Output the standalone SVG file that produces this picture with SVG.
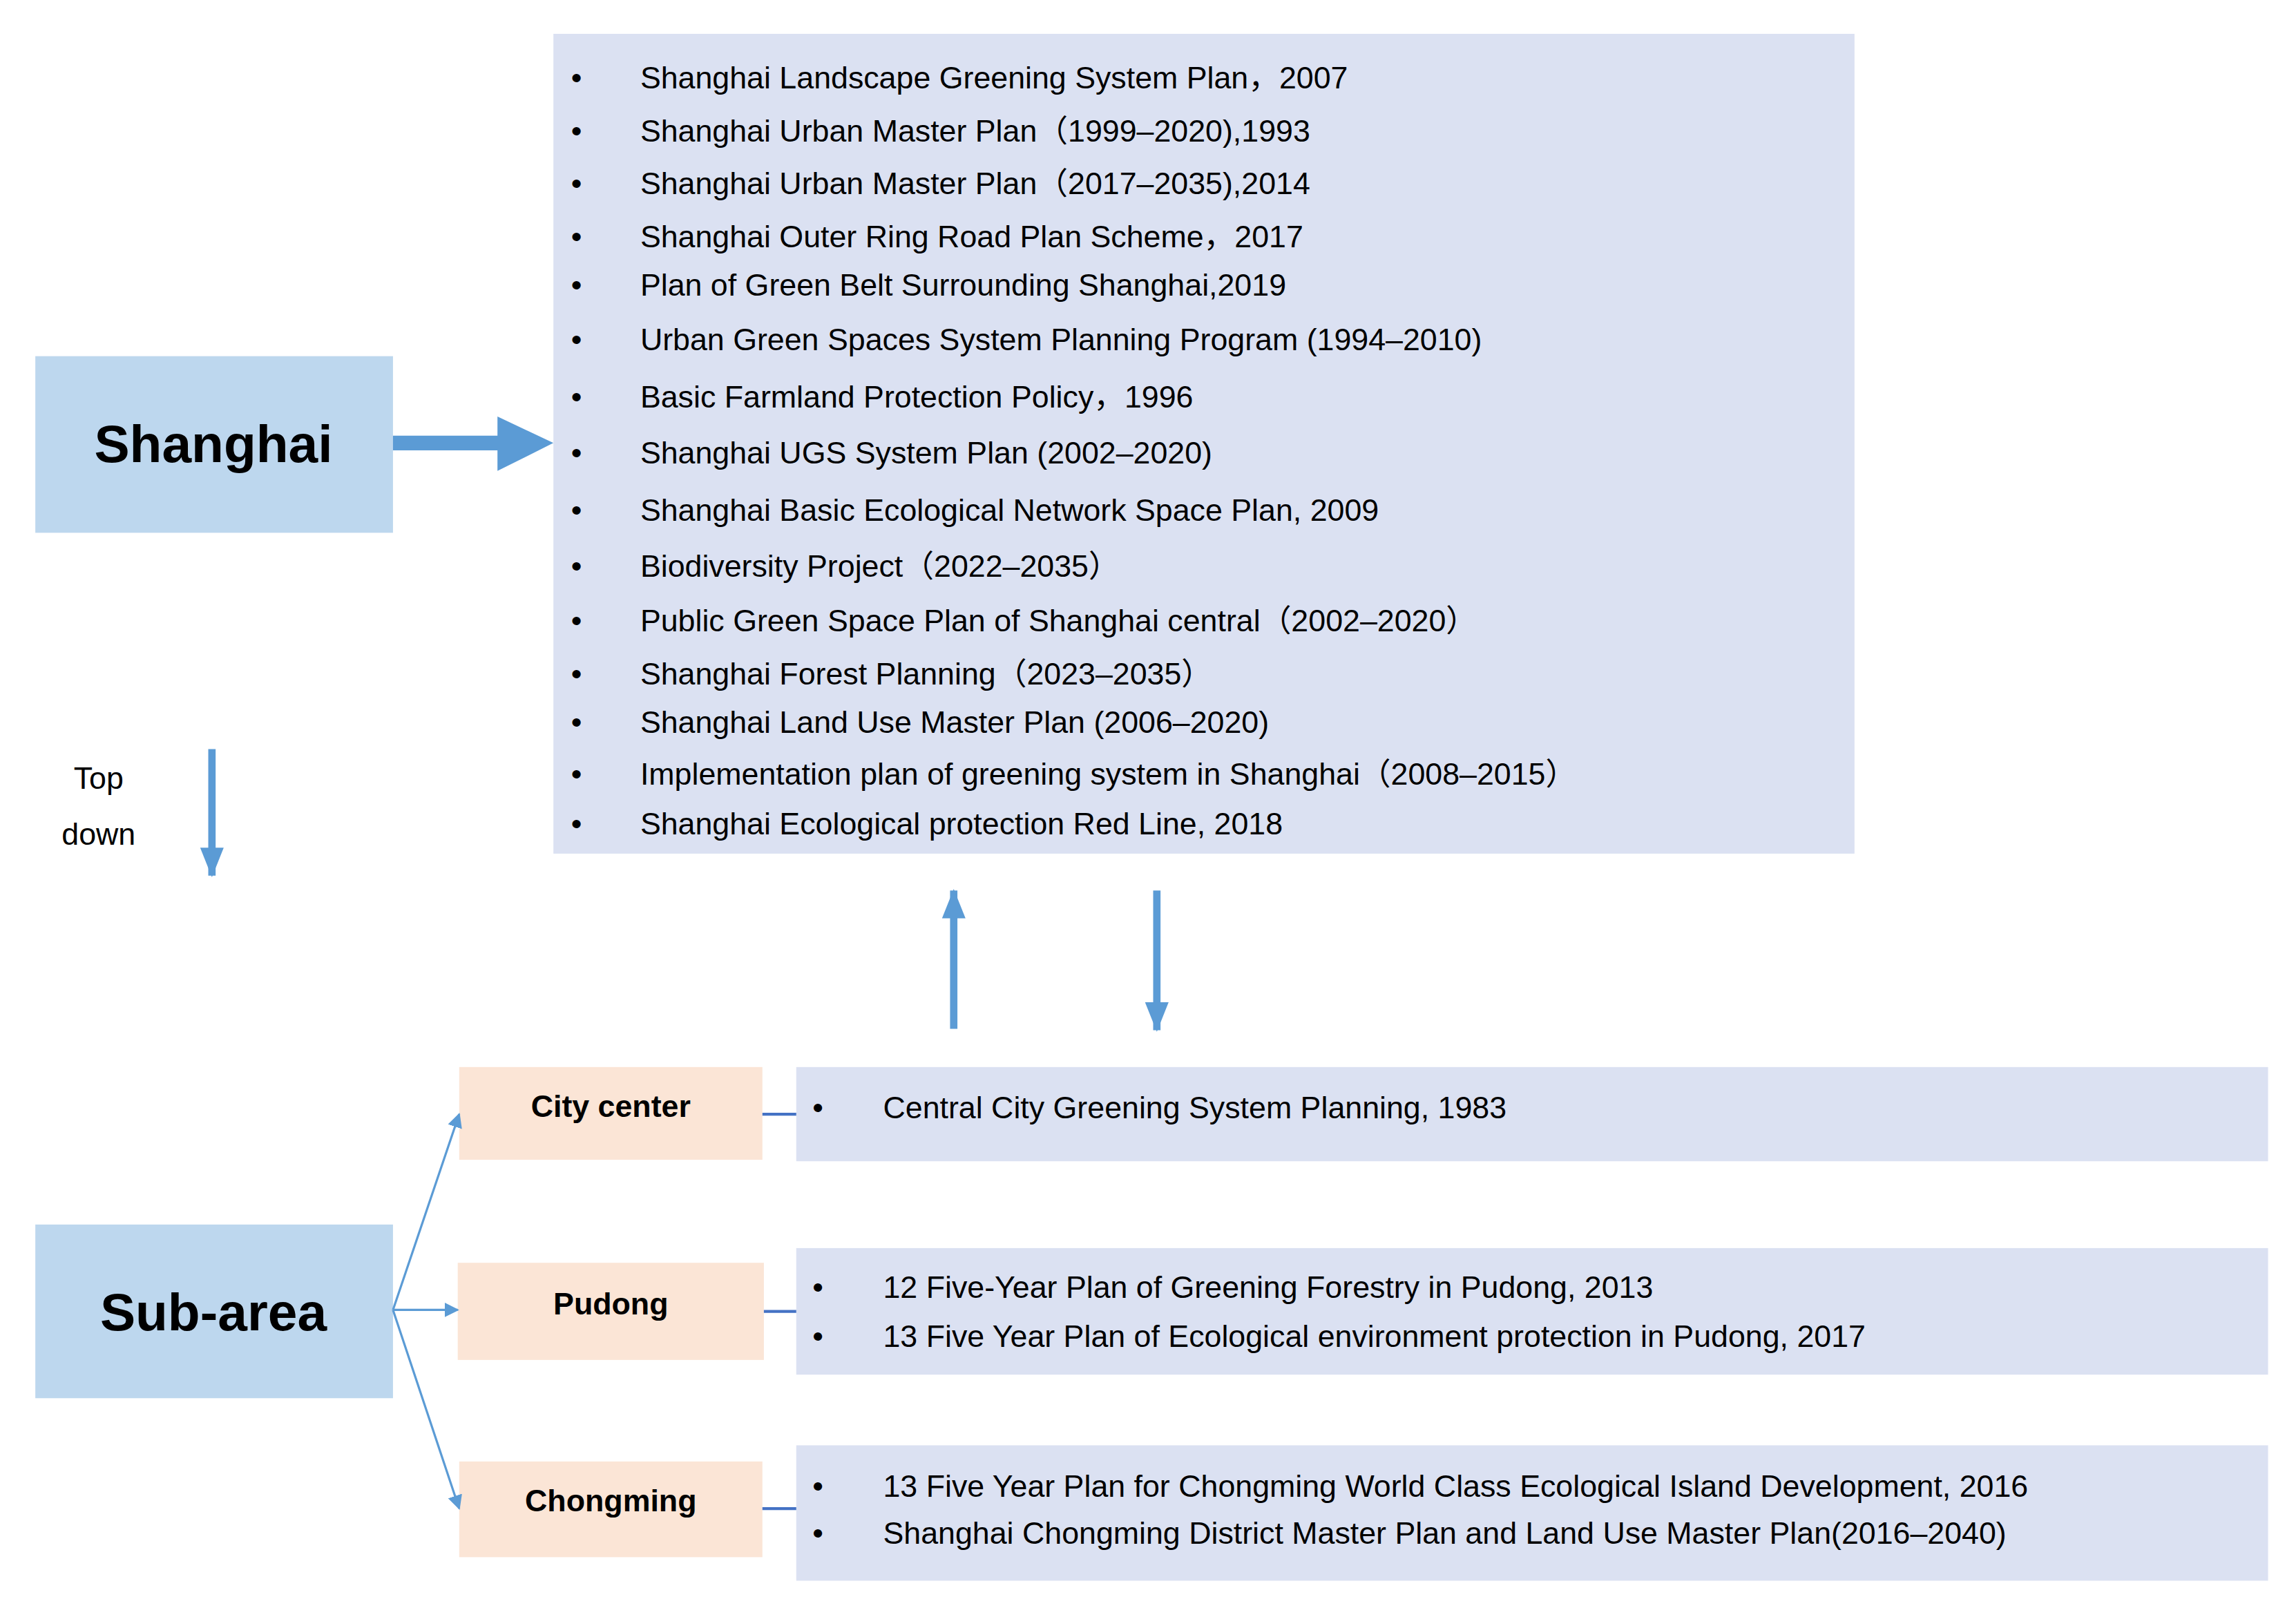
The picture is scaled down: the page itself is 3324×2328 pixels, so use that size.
<svg xmlns="http://www.w3.org/2000/svg" width="3324" height="2328" viewBox="0 0 3324 2328">
<style>
.t{font-family:"Liberation Sans","Noto Sans CJK SC",sans-serif;font-size:21px;fill:#000}
.b{font-family:"Liberation Sans",sans-serif;font-weight:bold;fill:#000;text-anchor:middle}
.list{fill:#dbe1f2}
.main{fill:#bdd7ee}
.sub{fill:#fbe5d6}
.fat{fill:#5b9bd5}
.thin{stroke:#5b9bd5;stroke-width:1.5;fill:none}
.con{stroke:#4472c4;stroke-width:2}
</style>
<defs>
<marker id="ah" markerWidth="10" markerHeight="10" refX="9" refY="5" orient="auto" markerUnits="userSpaceOnUse"><path d="M0,0 L10,5 L0,10 z" fill="#5b9bd5"/></marker>
<marker id="ah2" markerWidth="20" markerHeight="16" refX="19" refY="8" orient="auto" markerUnits="userSpaceOnUse"><path d="M0,0 L20,8 L0,16 z" fill="#5b9bd5"/></marker>
</defs>
<rect width="3324" height="2328" fill="#fff"/>
<g transform="scale(2.1308)">
<g id="shanghai"><rect class="main" x="24" y="242" width="243" height="120"/><text class="b" x="145" y="314" font-size="36">Shanghai</text></g>
<g id="plans"><rect class="list" x="376" y="23" width="884" height="557"/>
<g class="t">
<text x="388" y="60">•</text><text x="435" y="60">Shanghai Landscape Greening System Plan，2007</text>
<text x="388" y="96">•</text><text x="435" y="96">Shanghai Urban Master Plan（1999–2020),1993</text>
<text x="388" y="132">•</text><text x="435" y="132">Shanghai Urban Master Plan（2017–2035),2014</text>
<text x="388" y="168">•</text><text x="435" y="168">Shanghai Outer Ring Road Plan Scheme，2017</text>
<text x="388" y="201">•</text><text x="435" y="201">Plan of Green Belt Surrounding Shanghai,2019</text>
<text x="388" y="238">•</text><text x="435" y="238">Urban Green Spaces System Planning Program (1994–2010)</text>
<text x="388" y="277">•</text><text x="435" y="277">Basic Farmland Protection Policy，1996</text>
<text x="388" y="315">•</text><text x="435" y="315">Shanghai UGS System Plan (2002–2020)</text>
<text x="388" y="354">•</text><text x="435" y="354">Shanghai Basic Ecological Network Space Plan, 2009</text>
<text x="388" y="392">•</text><text x="435" y="392">Biodiversity Project（2022–2035）</text>
<text x="388" y="429">•</text><text x="435" y="429">Public Green Space Plan of Shanghai central（2002–2020）</text>
<text x="388" y="465">•</text><text x="435" y="465">Shanghai Forest Planning（2023–2035）</text>
<text x="388" y="498">•</text><text x="435" y="498">Shanghai Land Use Master Plan (2006–2020)</text>
<text x="388" y="533">•</text><text x="435" y="533">Implementation plan of greening system in Shanghai（2008–2015）</text>
<text x="388" y="567">•</text><text x="435" y="567">Shanghai Ecological protection Red Line, 2018</text>
</g></g>
<g id="topdown"><text class="t" x="67" y="536" font-size="26" text-anchor="middle">Top</text><text class="t" x="67" y="574" font-size="26" text-anchor="middle">down</text></g>
<g id="subarea"><rect class="main" x="24" y="832" width="243" height="118"/><text class="b" x="145" y="904" font-size="36">Sub-area</text></g>
<g id="citycenter"><rect class="sub" x="312" y="725" width="206" height="63"/><text class="b" x="415" y="759" font-size="21">City center</text></g>
<g id="pudong"><rect class="sub" x="311" y="858" width="208" height="66"/><text class="b" x="415" y="893" font-size="21">Pudong</text></g>
<g id="chongming"><rect class="sub" x="312" y="993" width="206" height="65"/><text class="b" x="415" y="1027" font-size="21">Chongming</text></g>
<g id="citycenter-plans"><rect class="list" x="541" y="725" width="1000" height="64"/><g class="t"><text x="552" y="760">•</text><text x="600" y="760">Central City Greening System Planning, 1983</text></g></g>
<g id="pudong-plans"><rect class="list" x="541" y="848" width="1000" height="86"/><g class="t"><text x="552" y="882">•</text><text x="600" y="882">12  Five-Year Plan of Greening Forestry in Pudong, 2013</text><text x="552" y="915">•</text><text x="600" y="915">13  Five Year Plan of Ecological environment protection in Pudong, 2017</text></g></g>
<g id="chongming-plans"><rect class="list" x="541" y="982" width="1000" height="92"/><g class="t"><text x="552" y="1017">•</text><text x="600" y="1017">13  Five Year Plan for Chongming World Class Ecological Island Development, 2016</text><text x="552" y="1049">•</text><text x="600" y="1049">Shanghai Chongming District Master Plan and Land Use Master Plan(2016–2040)</text></g></g>
<g id="connectors">
<path class="fat" d="M267,296 H338 V283 L376,301 L338,320 V306 H267 z"/>
<line x1="144" y1="509" x2="144" y2="595" stroke="#5b9bd5" stroke-width="5" marker-end="url(#ah2)"/>
<line x1="648" y1="699" x2="648" y2="605" stroke="#5b9bd5" stroke-width="5" marker-end="url(#ah2)"/>
<line x1="786" y1="605" x2="786" y2="700" stroke="#5b9bd5" stroke-width="5" marker-end="url(#ah2)"/>
<line class="thin" x1="267" y1="890" x2="312" y2="757" marker-end="url(#ah)"/>
<line class="thin" x1="267" y1="890" x2="311" y2="890" marker-end="url(#ah)"/>
<line class="thin" x1="267" y1="890" x2="312" y2="1025" marker-end="url(#ah)"/>
<line class="con" x1="518" y1="757" x2="541" y2="757"/>
<line class="con" x1="519" y1="891" x2="541" y2="891"/>
<line class="con" x1="518" y1="1025" x2="541" y2="1025"/>
</g>
</g>
</svg>
